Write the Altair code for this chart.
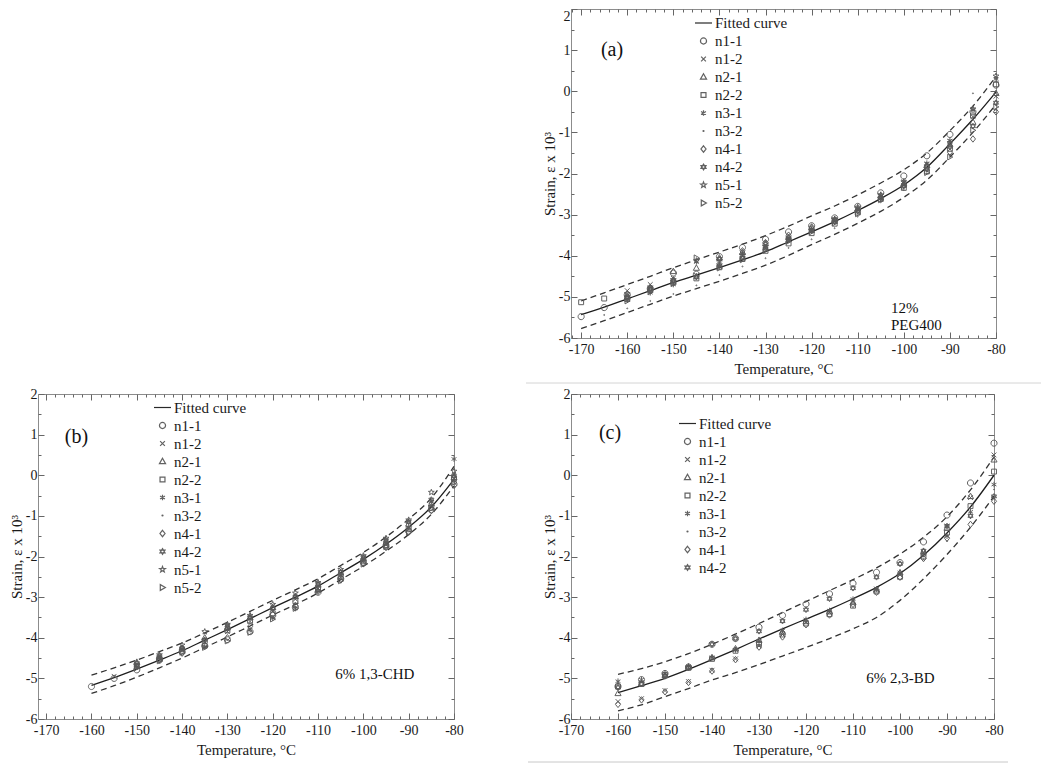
import math
import altair as alt
import pandas as pd

SERIF = "Liberation Serif"

SERIES_10 = ["n1-1", "n1-2", "n2-1", "n2-2", "n3-1", "n3-2", "n4-1", "n4-2", "n5-1", "n5-2"]
SERIES_8 = ["n1-1", "n1-2", "n2-1", "n2-2", "n3-1", "n3-2", "n4-1", "n4-2"]

# ---------------- Panel (a): 12% PEG400 ----------------
TEMP_A = [-170, -165, -160, -155, -150, -145, -140, -135, -130, -125, -120, -115, -110, -105, -100, -95, -90, -85, -80]
FIT_A = [-5.43, -5.25, -5.05, -4.85, -4.65, -4.47, -4.29, -4.10, -3.90, -3.66, -3.42, -3.17, -2.90, -2.61, -2.28, -1.85, -1.28, -0.68, -0.02]
UP_A = [-5.10, -4.90, -4.70, -4.50, -4.29, -4.10, -3.91, -3.72, -3.51, -3.28, -3.03, -2.79, -2.52, -2.23, -1.91, -1.50, -0.96, -0.36, 0.36]
LO_A = [-5.77, -5.58, -5.38, -5.18, -4.98, -4.80, -4.62, -4.43, -4.23, -3.99, -3.73, -3.48, -3.21, -2.92, -2.58, -2.16, -1.60, -1.00, -0.32]
A_N1_1 = [-5.48, -5.26, -4.95, -4.80, -4.42, -4.45, -4.02, -3.80, -3.60, -3.42, -3.27, -3.08, -2.80, -2.47, -2.06, -1.57, -1.05, -0.50, 0.15]
A_N1_2 = [None, None, -4.85, -4.70, -4.55, -4.48, -4.20, -4.00, -3.75, -3.58, -3.38, -3.15, -2.88, -2.55, -2.20, -1.78, -1.22, -0.62, -0.12]
A_N2_1 = [None, None, -5.00, -4.78, -4.38, -4.30, -4.05, -3.92, -3.70, -3.55, -3.32, -3.12, -2.86, -2.54, -2.25, -1.80, -1.30, -0.75, -0.05]
A_N2_2 = [-5.13, -5.04, -5.05, -4.83, -4.65, -4.55, -4.28, -4.08, -3.88, -3.70, -3.45, -3.22, -2.95, -2.62, -2.35, -1.95, -1.40, -0.59, 0.17]
A_N3_1 = [None, None, -5.08, -4.90, -4.70, -4.15, -4.25, -3.95, -3.78, -3.60, -3.35, -3.10, -2.85, -2.55, -2.22, -1.75, -1.20, -0.45, 0.30]
A_N3_2 = [None, -5.44, -5.28, -5.10, -4.93, -4.72, -4.47, -4.26, -4.06, -3.81, -3.60, -3.33, -3.05, -2.70, -2.40, -2.00, -1.55, -0.05, -0.45]
A_N4_1 = [None, None, -4.98, -4.85, -4.60, -4.50, -4.10, -3.88, -3.68, -3.50, -3.30, -3.14, -2.90, -2.58, -2.28, -1.85, -1.48, -1.16, -0.50]
A_N4_2 = [None, None, -5.02, -4.80, -4.62, -4.52, -4.08, -4.05, -3.82, -3.62, -3.40, -3.18, -2.92, -2.60, -2.30, -1.90, -1.35, -0.85, -0.28]
A_N5_1 = [None, None, -4.92, -4.76, -4.58, -4.12, -4.22, -3.98, -3.72, -3.57, -3.37, -3.12, -2.82, -2.52, -2.20, -1.82, -1.25, -0.43, 0.37]
A_N5_2 = [None, None, -5.10, -4.88, -4.68, -4.05, -4.30, -4.10, -3.86, -3.65, -3.42, -3.20, -2.98, -2.64, -2.32, -1.98, -1.60, -0.95, -0.38]

# ---------------- Panel (b): 6% 1,3-CHD ----------------
TEMP_B = [-160, -155, -150, -145, -140, -135, -130, -125, -120, -115, -110, -105, -100, -95, -90, -85, -80]
FIT_B = [-5.17, -4.98, -4.77, -4.55, -4.32, -4.06, -3.80, -3.53, -3.26, -3.00, -2.73, -2.40, -2.07, -1.70, -1.28, -0.78, -0.10]
UP_B = [-4.92, -4.74, -4.55, -4.34, -4.13, -3.88, -3.62, -3.35, -3.08, -2.82, -2.55, -2.22, -1.90, -1.52, -1.08, -0.56, 0.22]
LO_B = [-5.37, -5.18, -4.97, -4.74, -4.50, -4.24, -3.98, -3.71, -3.44, -3.18, -2.90, -2.57, -2.24, -1.87, -1.46, -0.96, -0.26]
B_N1_1 = [-5.20, -5.00, -4.79, -4.55, -4.35, -4.20, -4.05, -3.85, -3.45, -3.25, -2.88, -2.55, -2.15, -1.75, -1.38, -0.85, -0.22]
B_N1_2 = [None, -4.95, -4.68, -4.50, -4.30, -4.10, -3.85, -3.60, -3.35, -3.05, -2.78, -2.45, -2.10, -1.70, -1.30, -0.75, -0.10]
B_N2_1 = [None, None, -4.60, -4.45, -4.25, -4.00, -3.75, -3.50, -3.25, -2.98, -2.70, -2.40, -2.05, -1.65, -1.20, -0.70, -0.05]
B_N2_2 = [None, None, -4.70, -4.52, -4.32, -4.08, -3.82, -3.58, -3.40, -3.10, -2.80, -2.50, -2.12, -1.72, -1.33, -0.80, -0.08]
B_N3_1 = [None, None, -4.72, -4.50, -4.28, -4.22, -3.80, -3.80, -3.52, -3.28, -2.85, -2.48, -2.08, -1.68, -1.28, -0.65, 0.40]
B_N3_2 = [None, None, -4.75, -4.48, -4.22, -4.02, -3.72, -3.48, -3.22, -2.95, -2.70, -2.42, -2.05, -1.62, -1.18, -0.72, 0.05]
B_N4_1 = [None, None, -4.65, -4.55, -4.38, -4.18, -4.00, -3.72, -3.42, -3.20, -2.86, -2.58, -2.18, -1.78, -1.40, -0.87, -0.25]
B_N4_2 = [None, None, -4.68, -4.48, -4.26, -4.05, -3.70, -3.50, -3.28, -3.00, -2.68, -2.38, -2.02, -1.60, -1.15, -0.60, -0.02]
B_N5_1 = [None, None, -4.62, -4.42, -4.18, -3.85, -3.67, -3.45, -3.18, -2.90, -2.64, -2.32, -1.98, -1.55, -1.10, -0.42, 0.10]
B_N5_2 = [None, None, -4.74, -4.57, -4.36, -4.24, -4.08, -3.87, -3.54, -3.28, -2.84, -2.60, -2.19, -1.76, -1.41, -0.82, -0.18]

# ---------------- Panel (c): 6% 2,3-BD ----------------
TEMP_C = [-160, -155, -150, -145, -140, -135, -130, -125, -120, -115, -110, -105, -100, -95, -90, -85, -80]
FIT_C = [-5.35, -5.18, -5.00, -4.78, -4.54, -4.29, -4.03, -3.78, -3.54, -3.30, -3.04, -2.76, -2.42, -1.97, -1.42, -0.78, 0.00]
UP_C = [-4.90, -4.76, -4.59, -4.39, -4.16, -3.91, -3.65, -3.38, -3.11, -2.84, -2.57, -2.28, -1.94, -1.53, -1.02, -0.36, 0.45]
LO_C = [-5.80, -5.65, -5.45, -5.25, -5.04, -4.86, -4.66, -4.45, -4.24, -4.02, -3.78, -3.50, -3.08, -2.55, -1.95, -1.28, -0.52]
C_N1_1 = [-5.20, -5.03, -4.88, -4.72, -4.16, -4.02, -3.74, -3.45, -3.17, -2.92, -2.66, -2.39, -2.15, -1.64, -0.98, -0.19, 0.79]
C_N1_2 = [-5.57, -5.50, -5.30, -5.08, -4.80, -4.52, -4.20, -3.92, -3.62, -3.38, -3.10, -2.80, -2.45, -1.90, -1.25, -0.55, 0.50]
C_N2_1 = [-5.37, -5.12, -4.92, -4.72, -4.49, -4.27, -4.06, -3.86, -3.60, -3.36, -3.13, -2.82, -2.40, -1.88, -1.30, -0.52, 0.38]
C_N2_2 = [-5.20, -5.14, -4.92, -4.74, -4.52, -4.32, -4.15, -3.92, -3.65, -3.42, -3.21, -2.86, -2.50, -2.00, -1.41, -0.76, 0.09]
C_N3_1 = [-5.07, -5.03, -4.88, -4.70, -4.48, -4.30, -4.08, -3.82, -3.55, -3.33, -3.05, -2.80, -2.39, -1.95, -1.50, -0.90, -0.23]
C_N3_2 = [-5.10, -5.08, -4.90, -4.71, -4.50, -4.25, -4.10, -3.85, -3.58, -3.35, -3.08, -2.78, -2.42, -2.07, -1.62, -1.05, -0.35]
C_N4_1 = [-5.64, -5.53, -5.33, -5.10, -4.82, -4.54, -4.23, -3.98, -3.68, -3.44, -3.18, -2.88, -2.51, -2.05, -1.55, -1.21, -0.64]
C_N4_2 = [-5.22, -5.14, -4.95, -4.74, -4.16, -4.02, -3.84, -3.59, -3.31, -3.04, -2.78, -2.51, -2.18, -1.86, -1.25, -1.00, -0.52]

X_MAJOR = [-170, -160, -150, -140, -130, -120, -110, -100, -90, -80]
Y_MAJOR = [-6, -5, -4, -3, -2, -1, 0, 1, 2]

# annotation texts (label, temperature, strain)
TAG_A = ("(a)", -163.3, 1.0)
TAG_B = ("(b)", -163.3, 0.95)
TAG_C = ("(c)", -161.7, 1.05)
NOTE_A = ("12%\nPEG400", -102.8, -5.26)
NOTE_B = ("6% 1,3-CHD", -106.2, -4.90)
NOTE_C = ("6% 2,3-BD", -107.2, -4.99)


# ---------------- marker shapes ----------------
def circle_path(r):
    return f"M{-r},0A{r},{r} 0 1,0 {r},0A{r},{r} 0 1,0 {-r},0Z"


def star_path(n, ro, ri):
    pts = []
    for k in range(2 * n):
        ang = math.radians(-90 + 180.0 / n * k)
        r = ro if k % 2 == 0 else ri
        pts.append(f"{r * math.cos(ang):.3f},{r * math.sin(ang):.3f}")
    return "M" + "L".join(pts) + "Z"


LINE_PATH = "M-1,0L1,0"
SHAPES = {
    "n1-1": circle_path(0.36),
    "n1-2": "M-0.28,-0.28L0.28,0.28M-0.28,0.28L0.28,-0.28",
    "n2-1": "M0,-0.38L0.36,0.26L-0.36,0.26Z",
    "n2-2": "M-0.29,-0.29L0.29,-0.29L0.29,0.29L-0.29,0.29Z",
    "n3-1": "M0,-0.33L0,0.33M-0.29,-0.17L0.29,0.17M-0.29,0.17L0.29,-0.17",
    "n3-2": circle_path(0.06),
    "n4-1": "M0,-0.38L0.3,0L0,0.38L-0.3,0Z",
    "n4-2": "M0,-0.34L0.3,0.17L-0.3,0.17ZM0,0.34L0.3,-0.17L-0.3,-0.17Z",
    "n5-1": star_path(5, 0.36, 0.15),
    "n5-2": "M0.34,0L-0.26,-0.34L-0.26,0.34Z",
}


def points_frame(temps, names, columns):
    rows = []
    for name, vals in zip(names, columns):
        for t, v in zip(temps, vals):
            if v is not None:
                rows.append({"T": t, "v": v, "s": name})
    return pd.DataFrame(rows)


def tick_size_cond(test):
    return {"condition": {"test": test, "value": 6}, "value": 3}


def panel(temps, fit, up, lo, pts, names, xdom, W, H, tag, note, legend_xy,
          extra=None, top_label_inside=False):
    xs = alt.Scale(domain=xdom, nice=False, zero=False)
    ys = alt.Scale(domain=[-6, 2], nice=False, zero=False)
    curve = pd.DataFrame({"T": temps, "fit": fit, "up": up, "lo": lo})
    x_minor = [t for t in range(-180, -79, 2) if t >= xdom[0] - 1e-9]
    y_minor = [v / 2 for v in range(-12, 5)]

    label_common = dict(labelFont=SERIF, labelFontSize=14, labelColor="#1a1a1a",
                        titleFont=SERIF, titleFontSize=15, titleColor="#1a1a1a",
                        titleFontWeight="normal", grid=False, domain=False,
                        ticks=False, tickSize=0, labelExpr="'' + datum.value",
                        labelFlush=False, labelOverlap=False)
    y_extra = {}
    if top_label_inside:
        y_extra["labelBaseline"] = {"condition": {"test": "datum.value === 2", "value": "top"},
                                    "value": "middle"}

    main = alt.Chart(curve).mark_line(color="#1e1e1e", strokeWidth=1.3, interpolate="monotone").encode(
        x=alt.X("T:Q", scale=xs, axis=alt.Axis(orient="bottom", title="Temperature, °C",
                                                  values=X_MAJOR, labelPadding=4, titlePadding=5,
                                                  **label_common)),
        y=alt.Y("fit:Q", scale=ys, axis=alt.Axis(orient="left", title="Strain, ε x 10³",
                                                   values=Y_MAJOR, labelPadding=1, titlePadding=1,
                                                   **label_common, **y_extra)),
    )
    upper = alt.Chart(curve).mark_line(color="#333", strokeWidth=1.3, strokeDash=[6, 4],
                                       interpolate="monotone").encode(
        x=alt.X("T:Q", scale=xs, axis=None), y=alt.Y("up:Q", scale=ys, axis=None))
    lower = alt.Chart(curve).mark_line(color="#333", strokeWidth=1.3, strokeDash=[6, 4],
                                       interpolate="monotone").encode(
        x=alt.X("T:Q", scale=xs, axis=None), y=alt.Y("lo:Q", scale=ys, axis=None))

    dom = ["Fitted curve"] + names
    shp = [LINE_PATH] + [SHAPES[n] for n in names]
    col = ["#1e1e1e"] + ["#5a5a5a"] * len(names)
    leg = dict(title=None, orient="none", legendX=legend_xy[0], legendY=legend_xy[1],
               symbolSize=289, symbolStrokeWidth=1.2, labelFont=SERIF, labelFontSize=15,
               labelColor="#1a1a1a", labelOffset=2, rowPadding=0, padding=0)
    pts_layer = alt.Chart(pts).mark_point(size=289, filled=False, strokeWidth=1, opacity=0.95).encode(
        x=alt.X("T:Q", scale=xs, axis=None),
        y=alt.Y("v:Q", scale=ys, axis=None),
        shape=alt.Shape("s:N", scale=alt.Scale(domain=dom, range=shp), legend=alt.Legend(**leg)),
        color=alt.Color("s:N", scale=alt.Scale(domain=dom, range=col), legend=alt.Legend(**leg)),
    )

    tag_df = pd.DataFrame([{"label": tag[0], "T": tag[1], "v": tag[2]}])
    tag_layer = alt.Chart(tag_df).mark_text(font=SERIF, fontSize=20, color="#111",
                                            align="center", baseline="middle").encode(
        x=alt.X("T:Q", scale=xs, axis=None), y=alt.Y("v:Q", scale=ys, axis=None), text="label:N")
    note_df = pd.DataFrame([{"label": note[0], "T": note[1], "v": note[2]}])
    note_layer = alt.Chart(note_df).mark_text(font=SERIF, fontSize=15, color="#111", align="left",
                                              baseline="middle", lineBreak="\n", lineHeight=17).encode(
        x=alt.X("T:Q", scale=xs, axis=None), y=alt.Y("v:Q", scale=ys, axis=None), text="label:N")

    def tick_axis_x(orient):
        return alt.Chart(curve).mark_line(opacity=0).encode(
            x=alt.X("T:Q", scale=xs, axis=alt.Axis(
                orient=orient, offset=-H, values=x_minor, labels=False, domain=False, grid=False,
                title=None, tickColor="#666", tickWidth=1,
                tickSize=tick_size_cond("datum.value % 10 === 0"))),
            y=alt.Y("fit:Q", scale=ys, axis=None))

    def tick_axis_y(orient):
        return alt.Chart(curve).mark_line(opacity=0).encode(
            x=alt.X("T:Q", scale=xs, axis=None),
            y=alt.Y("fit:Q", scale=ys, axis=alt.Axis(
                orient=orient, offset=-W, values=y_minor, labels=False, domain=False, grid=False,
                title=None, tickColor="#666", tickWidth=1,
                tickSize=tick_size_cond("datum.value % 1 === 0"))))

    layers = [main, upper, lower, pts_layer, tag_layer, note_layer,
              tick_axis_x("bottom"), tick_axis_x("top"), tick_axis_y("left"), tick_axis_y("right")]
    if extra is not None:
        layers += extra
    return alt.layer(*layers).resolve_axis(x="independent", y="independent").properties(width=W, height=H)


pts_a = points_frame(TEMP_A, SERIES_10, [A_N1_1, A_N1_2, A_N2_1, A_N2_2, A_N3_1, A_N3_2,
                                         A_N4_1, A_N4_2, A_N5_1, A_N5_2])
pts_b = points_frame(TEMP_B, SERIES_10, [B_N1_1, B_N1_2, B_N2_1, B_N2_2, B_N3_1, B_N3_2,
                                         B_N4_1, B_N4_2, B_N5_1, B_N5_2])
pts_c = points_frame(TEMP_C, SERIES_8, [C_N1_1, C_N1_2, C_N2_1, C_N2_2, C_N3_1, C_N3_2,
                                        C_N4_1, C_N4_2])

sep_df = pd.DataFrame({"k": [0]})
sep_top = alt.Chart(sep_df).mark_rule(color="#d4d4d4", strokeWidth=1).encode(
    x=alt.value(-45), x2=alt.value(470), y=alt.value(-11))
sep_bottom = alt.Chart(sep_df).mark_rule(color="#c8c8c8", strokeWidth=1).encode(
    x=alt.value(-43), x2=alt.value(437), y=alt.value(368))

pa = panel(TEMP_A, FIT_A, UP_A, LO_A, pts_a, SERIES_10, [-172.2, -80], 425, 329,
           TAG_A, NOTE_A, (123, 4.5), top_label_inside=True)
pb = panel(TEMP_B, FIT_B, UP_B, LO_B, pts_b, SERIES_10, [-171.8, -80], 416, 325,
           TAG_B, NOTE_B, (115, 4), )
pc = panel(TEMP_C, FIT_C, UP_C, LO_C, pts_c, SERIES_8, [-170, -80], 423, 325,
           TAG_C, NOTE_C, (107, 20), extra=[sep_top, sep_bottom])

spacer = alt.Chart(pd.DataFrame({"T": [0]})).mark_point(opacity=0).encode(
    x=alt.X("T:Q", axis=None), y=alt.Y("T:Q", axis=None)
).properties(width=10, height=20, view=alt.ViewBackground(stroke="transparent"))

chart = alt.concat(
    spacer, pa, pb, pc, columns=2, bounds="flush",
    spacing=alt.RowColnumber(row=56, column=117),
).resolve_scale(
    color="independent", shape="independent"
).properties(
    padding={"left": 0, "top": 0, "right": 0, "bottom": 0},
    background="white",
).configure_view(stroke="#8c8c8c", strokeWidth=1)

chart.save("out.html", embed_options={"renderer": "svg", "actions": False})
